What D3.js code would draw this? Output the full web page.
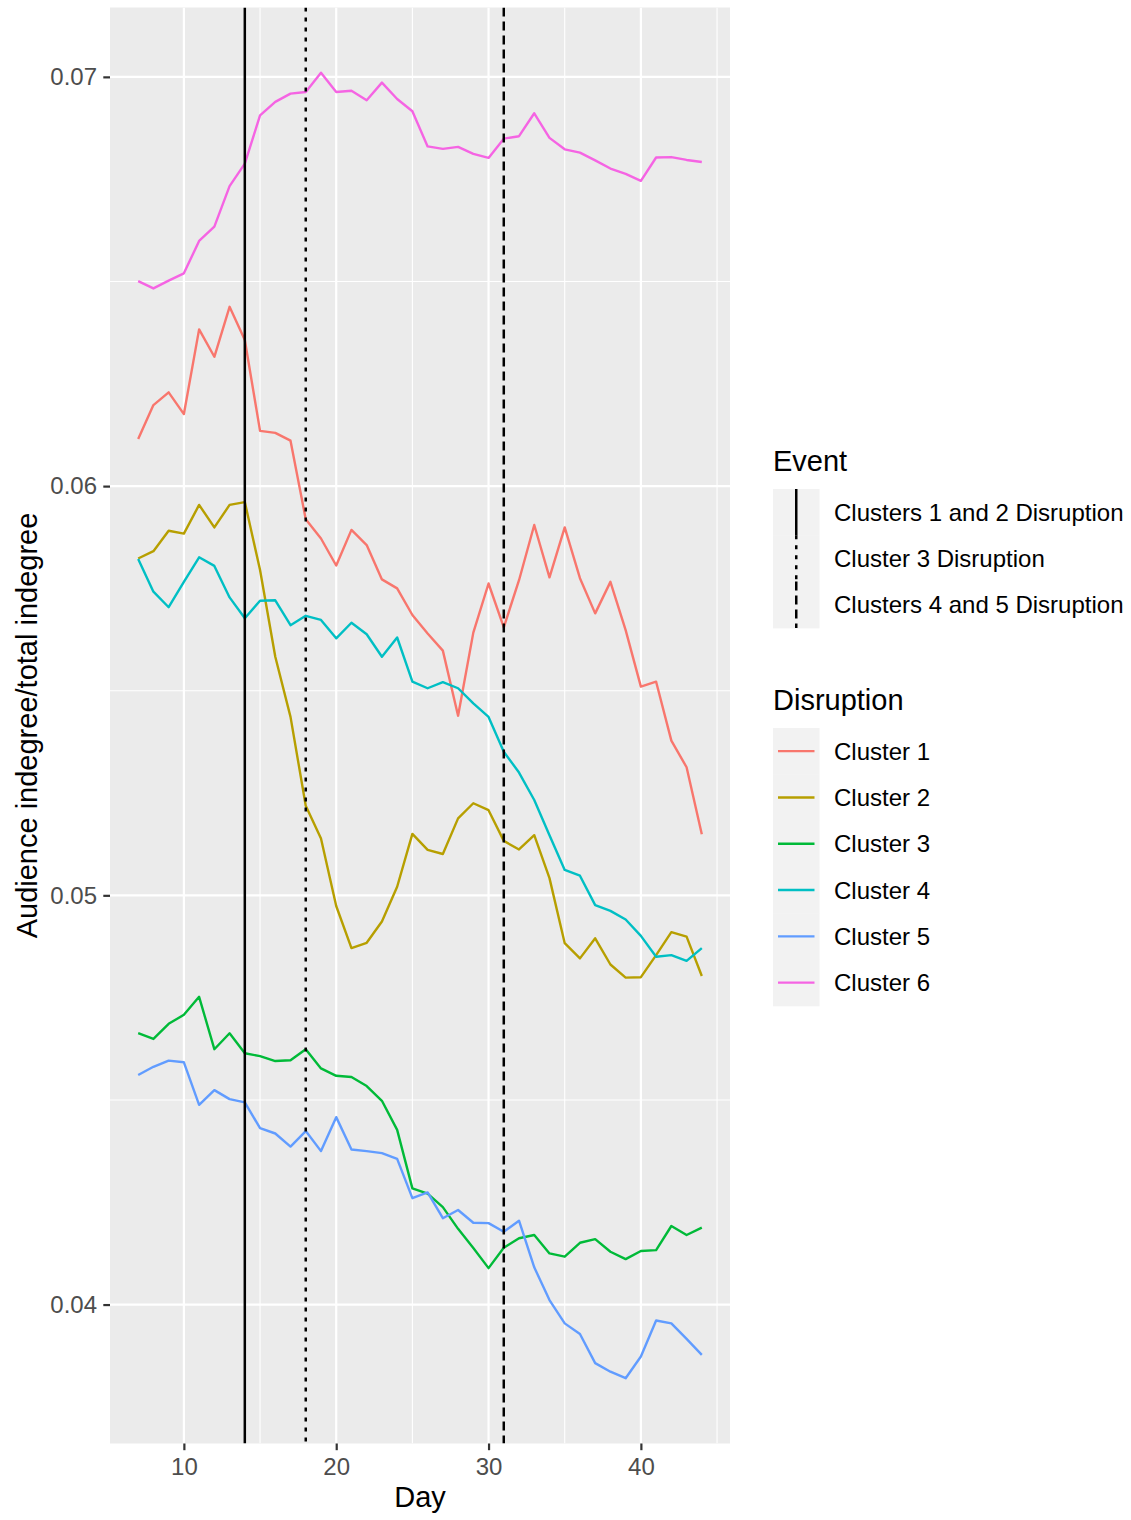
<!DOCTYPE html>
<html>
<head>
<meta charset="utf-8">
<script src="https://cdn.jsdelivr.net/npm/d3@7"></script>
<style>
  html, body { margin: 0; padding: 0; background: #ffffff; }
  svg { display: block; }
  text { font-family: "Liberation Sans", Arial, Helvetica, sans-serif; }
</style>
</head>
<body>
<svg id="chart" width="1131" height="1520"></svg>
<script>
// ---------------- data ----------------
const days = [7, 8, 9, 10, 11, 12, 13, 14, 15, 16, 17, 18, 19, 20, 21, 22, 23, 24, 25, 26,
              27, 28, 29, 30, 31, 32, 33, 34, 35, 36, 37, 38, 39, 40, 41, 42, 43, 44];

const cluster1 = [0.06115, 0.06198, 0.06229, 0.06176, 0.06383, 0.06316, 0.06438, 0.06357, 0.06135, 0.06130,
                  0.06111, 0.05919, 0.05872, 0.05806, 0.05893, 0.05856, 0.05772, 0.05750, 0.05685, 0.05640,
                  0.05598, 0.05439, 0.05642, 0.05762, 0.05655, 0.05770, 0.05905, 0.05777, 0.05899, 0.05775,
                  0.05689, 0.05766, 0.05648, 0.05510, 0.05522, 0.05378, 0.05313, 0.05149];
const cluster2 = [0.05823, 0.05841, 0.05891, 0.05884, 0.05954, 0.05899, 0.05954, 0.05961, 0.05795, 0.05583,
                  0.05436, 0.05219, 0.05139, 0.04974, 0.04871, 0.04884, 0.04936, 0.05021, 0.05150, 0.05111,
                  0.05101, 0.05188, 0.05225, 0.05208, 0.05133, 0.05112, 0.05147, 0.05042, 0.04883, 0.04846,
                  0.04895, 0.04831, 0.04799, 0.04800, 0.04854, 0.04910, 0.04899, 0.04803];
const cluster3 = [0.04663, 0.04649, 0.04686, 0.04708, 0.04752, 0.04624, 0.04663, 0.04614, 0.04607, 0.04595,
                  0.04597, 0.04624, 0.04577, 0.04559, 0.04556, 0.04534, 0.04498, 0.04427, 0.04284, 0.04271,
                  0.04238, 0.04185, 0.04138, 0.04089, 0.04139, 0.04162, 0.04170, 0.04125, 0.04117, 0.04151,
                  0.04160, 0.04129, 0.04111, 0.04131, 0.04133, 0.04192, 0.04170, 0.04188];
const cluster4 = [0.05822, 0.05742, 0.05704, 0.05766, 0.05826, 0.05805, 0.05728, 0.05677, 0.05720, 0.05721,
                  0.05660, 0.05683, 0.05673, 0.05628, 0.05666, 0.05638, 0.05583, 0.05630, 0.05522, 0.05506,
                  0.05521, 0.05506, 0.05469, 0.05436, 0.05351, 0.05300, 0.05233, 0.05147, 0.05062, 0.05048,
                  0.04976, 0.04962, 0.04941, 0.04901, 0.04850, 0.04854, 0.04840, 0.04871];
const cluster5 = [0.04561, 0.04581, 0.04596, 0.04592, 0.04488, 0.04524, 0.04502, 0.04494, 0.04431, 0.04418,
                  0.04386, 0.04424, 0.04375, 0.04458, 0.04379, 0.04375, 0.04370, 0.04356, 0.04260, 0.04274,
                  0.04211, 0.04231, 0.04200, 0.04199, 0.04178, 0.04205, 0.04091, 0.04011, 0.03954, 0.03928,
                  0.03857, 0.03836, 0.03820, 0.03873, 0.03961, 0.03954, 0.03916, 0.03877];
const cluster6 = [0.06501, 0.06483, 0.06502, 0.06520, 0.06599, 0.06634, 0.06733, 0.06788, 0.06906, 0.06939,
                  0.06959, 0.06963, 0.07010, 0.06963, 0.06966, 0.06943, 0.06986, 0.06946, 0.06916, 0.06830,
                  0.06824, 0.06829, 0.06812, 0.06802, 0.06849, 0.06855, 0.06911, 0.06851, 0.06823, 0.06815,
                  0.06796, 0.06776, 0.06763, 0.06746, 0.06803, 0.06804, 0.06797, 0.06792];

const seriesNames = ["Cluster 1", "Cluster 2", "Cluster 3", "Cluster 4", "Cluster 5", "Cluster 6"];
const seriesValues = [cluster1, cluster2, cluster3, cluster4, cluster5, cluster6];
const seriesColors = ["#F8766D", "#B79F00", "#00BA38", "#00BFC4", "#619CFF", "#F564E3"];

const eventNames = ["Clusters 1 and 2 Disruption", "Cluster 3 Disruption", "Clusters 4 and 5 Disruption"];
const eventDays = [14, 18, 31];
const eventDash = [null, "4,6", "9,5"];

const xTicks = [10, 20, 30, 40];
const xMinor = [15, 25, 35, 45];
const yTicks = [0.04, 0.05, 0.06, 0.07];
const yMinor = [0.045, 0.055, 0.065];

const xTitle = "Day";
const yTitle = "Audience indegree/total indegree";
const eventTitle = "Event";
const seriesTitle = "Disruption";

// ---------------- layout ----------------
const panel = { left: 110, right: 730, top: 7.5, bottom: 1443.5 };
const svg = d3.select("#chart");

const xExt = d3.extent(days);
const xPad = (xExt[1] - xExt[0]) * 0.05;
const allVals = seriesValues.flat();
const yExt = d3.extent(allVals);
const yPad = (yExt[1] - yExt[0]) * 0.05;

const x = d3.scaleLinear().domain([xExt[0] - xPad, xExt[1] + xPad]).range([panel.left, panel.right]);
const y = d3.scaleLinear().domain([yExt[0] - yPad, yExt[1] + yPad]).range([panel.bottom, panel.top]);

// panel background
svg.append("rect")
  .attr("x", panel.left).attr("y", panel.top)
  .attr("width", panel.right - panel.left).attr("height", panel.bottom - panel.top)
  .attr("fill", "#EBEBEB");

svg.append("clipPath").attr("id", "clip").append("rect")
  .attr("x", panel.left).attr("y", panel.top)
  .attr("width", panel.right - panel.left).attr("height", panel.bottom - panel.top);

const grid = svg.append("g").attr("clip-path", "url(#clip)");
// minor grid
grid.selectAll(".xminor").data(xMinor).join("line")
  .attr("x1", d => x(d)).attr("x2", d => x(d))
  .attr("y1", panel.top).attr("y2", panel.bottom)
  .attr("stroke", "#ffffff").attr("stroke-width", 1.1);
grid.selectAll(".yminor").data(yMinor).join("line")
  .attr("x1", panel.left).attr("x2", panel.right)
  .attr("y1", d => y(d)).attr("y2", d => y(d))
  .attr("stroke", "#ffffff").attr("stroke-width", 1.1);
// major grid
grid.selectAll(".xmajor").data(xTicks).join("line")
  .attr("x1", d => x(d)).attr("x2", d => x(d))
  .attr("y1", panel.top).attr("y2", panel.bottom)
  .attr("stroke", "#ffffff").attr("stroke-width", 2.2);
grid.selectAll(".ymajor").data(yTicks).join("line")
  .attr("x1", panel.left).attr("x2", panel.right)
  .attr("y1", d => y(d)).attr("y2", d => y(d))
  .attr("stroke", "#ffffff").attr("stroke-width", 2.2);

// series lines
const line = d3.line().x((d, i) => x(days[i])).y(d => y(d));
const plot = svg.append("g").attr("clip-path", "url(#clip)");
seriesValues.forEach((vals, k) => {
  plot.append("path")
    .attr("d", line(vals))
    .attr("fill", "none")
    .attr("stroke", seriesColors[k])
    .attr("stroke-width", 2.4)
    .attr("stroke-linejoin", "round");
});

// event lines
eventDays.forEach((d, k) => {
  const l = plot.append("line")
    .attr("x1", x(d)).attr("x2", x(d))
    .attr("y1", panel.top).attr("y2", panel.bottom)
    .attr("stroke", "#000000").attr("stroke-width", 2.5);
  if (eventDash[k]) l.attr("stroke-dasharray", eventDash[k]);
});

// axes
const axisColor = "#333333";
const labelColor = "#4D4D4D";
const fontSize = 24;
const titleSize = 29;

const yAxis = svg.append("g")
  .attr("transform", `translate(${panel.left},0)`)
  .call(d3.axisLeft(y).tickValues(yTicks).tickFormat(d3.format(".2f")).tickSize(6.7).tickPadding(6.3));
const xAxis = svg.append("g")
  .attr("transform", `translate(0,${panel.bottom})`)
  .call(d3.axisBottom(x).tickValues(xTicks).tickFormat(d3.format("d")).tickSize(6.7).tickPadding(7.5));

[xAxis, yAxis].forEach(a => {
  a.select(".domain").remove();
  a.selectAll(".tick line").attr("stroke", axisColor).attr("stroke-width", 2.2);
  a.selectAll(".tick text")
    .attr("fill", labelColor)
    .style("font-size", fontSize + "px")
    .style("font-family", '"Liberation Sans", Arial, Helvetica, sans-serif');
});

// axis titles
svg.append("text")
  .attr("x", (panel.left + panel.right) / 2)
  .attr("y", 1507)
  .attr("text-anchor", "middle")
  .style("font-size", titleSize + "px")
  .attr("fill", "#000000")
  .text(xTitle);

svg.append("text")
  .attr("transform", `translate(37,${(panel.top + panel.bottom) / 2}) rotate(-90)`)
  .attr("text-anchor", "middle")
  .style("font-size", titleSize + "px")
  .attr("fill", "#000000")
  .text(yTitle);

// ---------------- legends ----------------
const legX = 773;
const keyW = 46.5;
const keyH = 46.3;
const labelX = 834;

// Event legend
svg.append("text").attr("x", legX).attr("y", 471)
  .style("font-size", titleSize + "px").attr("fill", "#000").text(eventTitle);
const evTop = 489;
eventNames.forEach((name, k) => {
  const ky = evTop + k * keyH;
  svg.append("rect").attr("x", legX).attr("y", ky).attr("width", keyW).attr("height", keyH + 0.5)
    .attr("fill", "#F2F2F2");
});
eventNames.forEach((name, k) => {
  const ky = evTop + k * keyH;
  const l = svg.append("line")
    .attr("x1", legX + keyW / 2).attr("x2", legX + keyW / 2)
    .attr("y1", ky).attr("y2", ky + keyH)
    .attr("stroke", "#000").attr("stroke-width", 2.5);
  if (eventDash[k]) l.attr("stroke-dasharray", eventDash[k]);
  svg.append("text").attr("x", labelX).attr("y", ky + keyH / 2 + 8.5)
    .style("font-size", fontSize + "px").attr("fill", "#000").text(name);
});

// Series legend
svg.append("text").attr("x", legX).attr("y", 710)
  .style("font-size", titleSize + "px").attr("fill", "#000").text(seriesTitle);
const srTop = 728;
seriesNames.forEach((name, k) => {
  const ky = srTop + k * keyH;
  svg.append("rect").attr("x", legX).attr("y", ky).attr("width", keyW).attr("height", keyH + 0.5)
    .attr("fill", "#F2F2F2");
});
seriesNames.forEach((name, k) => {
  const ky = srTop + k * keyH;
  svg.append("line")
    .attr("x1", legX + 5).attr("x2", legX + keyW - 5)
    .attr("y1", ky + keyH / 2).attr("y2", ky + keyH / 2)
    .attr("stroke", seriesColors[k]).attr("stroke-width", 2.4);
  svg.append("text").attr("x", labelX).attr("y", ky + keyH / 2 + 8.5)
    .style("font-size", fontSize + "px").attr("fill", "#000").text(name);
});
</script>
</body>
</html>
